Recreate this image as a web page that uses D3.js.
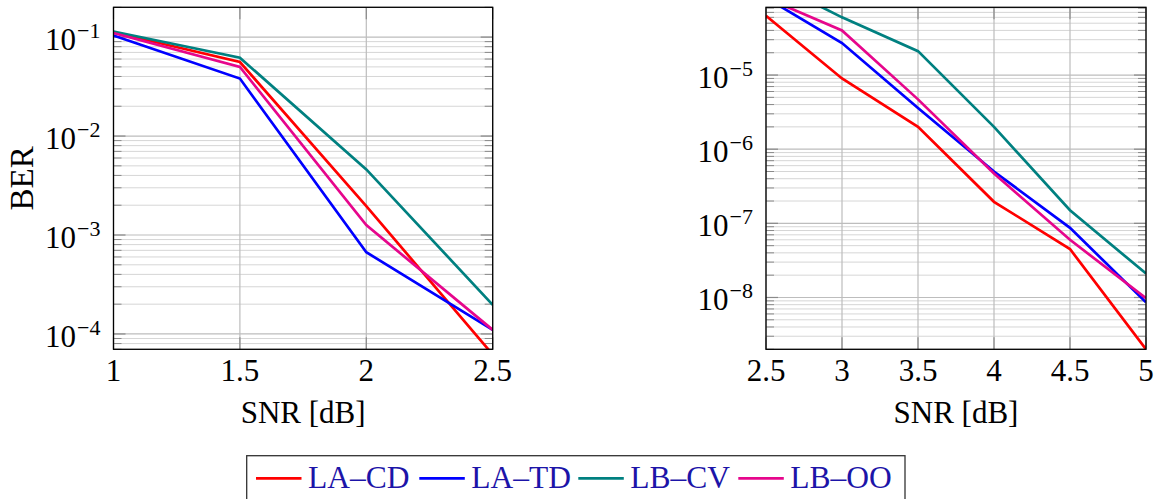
<!DOCTYPE html>
<html>
<head>
<meta charset="utf-8">
<script src="https://cdn.jsdelivr.net/npm/d3@7"></script>
<style>
  html, body { margin: 0; padding: 0; background: #fff; }
</style>
</head>
<body>
<svg id="chart" width="1158" height="499" font-family="'Liberation Serif', 'Times New Roman', Tinos, 'DejaVu Serif', serif"></svg>
<script>
// ---------- data ----------
const seriesNames = ["LA–CD", "LA–TD", "LB–CV", "LB–OO"];
const seriesColors = ["#ff0000", "#0000ff", "#008080", "#e6068c"];

const snrLeft = [1, 1.5, 2, 2.5];
const laCdLeft = [0.112, 0.056, 1.96e-3, 6.2e-5];
const laTdLeft = [0.104, 0.0381, 6.7e-4, 1.1e-4];
const lbCvLeft = [0.114, 0.0619, 4.6e-3, 1.97e-4];
const lbOoLeft = [0.11, 0.0499, 1.26e-3, 1.1e-4];

const snrRight = [2.5, 3, 3.5, 4, 4.5, 5];
const laCdRight = [6.3e-5, 9e-6, 2e-6, 1.95e-7, 4.5e-8, 2e-9];
const laTdRight = [1.1e-4, 2.7e-5, 3.6e-6, 5e-7, 8.7e-8, 8.6e-9];
const lbCvRight = [1.97e-4, 6e-5, 2.1e-5, 2e-6, 1.5e-7, 2.1e-8];
const lbOoRight = [1.1e-4, 4e-5, 4.7e-6, 4.7e-7, 6e-8, 9.8e-9];

const xTicksLeft = [1, 1.5, 2, 2.5];
const xTicksRight = [2.5, 3, 3.5, 4, 4.5, 5];
const yExpLeft = [-1, -2, -3, -4];
const yExpRight = [-5, -6, -7, -8];

const xLabel = "SNR [dB]";
const yLabel = "BER";

// ---------- drawing ----------
const svg = d3.select("#chart");
const FONT = "'Liberation Serif', 'Times New Roman', Tinos, 'DejaVu Serif', serif";

function panel(opts) {
  const { left, right, top, bottom, xDomain, yDomain, xTicks, yExps, snr, series, id, showYLabel } = opts;
  const x = d3.scaleLinear().domain(xDomain).range([left, right]);
  const y = d3.scaleLog().domain(yDomain).range([bottom, top]);
  const g = svg.append("g").attr("font-family", FONT);

  svg.append("clipPath").attr("id", id).append("rect")
    .attr("x", left).attr("y", top).attr("width", right - left).attr("height", bottom - top);

  const [ymin, ymax] = yDomain;
  const minor = [];
  const major = [];
  for (let e = Math.floor(Math.log10(ymin)); e <= Math.ceil(Math.log10(ymax)); e++) {
    for (let m = 1; m <= 9; m++) {
      const v = m * Math.pow(10, e);
      if (v >= ymin && v <= ymax) (m === 1 ? major : minor).push(v);
    }
  }

  g.selectAll(".ming").data(minor).enter().append("line")
    .attr("x1", left).attr("x2", right)
    .attr("y1", d => y(d)).attr("y2", d => y(d))
    .attr("stroke", "#c4c4c4").attr("stroke-width", 0.7);
  g.selectAll(".majg").data(major).enter().append("line")
    .attr("x1", left).attr("x2", right)
    .attr("y1", d => y(d)).attr("y2", d => y(d))
    .attr("stroke", "#bdbdbd").attr("stroke-width", 1.2);
  g.selectAll(".xg").data(xTicks).enter().append("line")
    .attr("x1", d => x(d)).attr("x2", d => x(d))
    .attr("y1", top).attr("y2", bottom)
    .attr("stroke", "#bdbdbd").attr("stroke-width", 1.2);

  const tickCol = "#8a8a8a";
  minor.forEach(v => {
    [[left, left + 8], [right, right - 8]].forEach(([a, b]) => {
      g.append("line").attr("x1", a).attr("x2", b).attr("y1", y(v)).attr("y2", y(v))
        .attr("stroke", tickCol).attr("stroke-width", 1);
    });
  });
  major.forEach(v => {
    [[left, left + 12], [right, right - 12]].forEach(([a, b]) => {
      g.append("line").attr("x1", a).attr("x2", b).attr("y1", y(v)).attr("y2", y(v))
        .attr("stroke", tickCol).attr("stroke-width", 1.2);
    });
  });
  xTicks.forEach(v => {
    [[bottom, bottom - 12], [top, top + 12]].forEach(([a, b]) => {
      g.append("line").attr("x1", x(v)).attr("x2", x(v)).attr("y1", a).attr("y2", b)
        .attr("stroke", tickCol).attr("stroke-width", 1.2);
    });
  });

  const line = d3.line().x(d => x(d[0])).y(d => y(d[1]));
  const lg = g.append("g").attr("clip-path", `url(#${id})`);
  series.forEach((vals, i) => {
    lg.append("path")
      .datum(snr.map((s, k) => [s, vals[k]]))
      .attr("d", line)
      .attr("fill", "none")
      .attr("stroke", seriesColors[i])
      .attr("stroke-width", 2.7)
      .attr("stroke-linejoin", "miter");
  });

  g.append("rect").attr("x", left).attr("y", top)
    .attr("width", right - left).attr("height", bottom - top)
    .attr("fill", "none").attr("stroke", "#000").attr("stroke-width", 1.3);

  g.selectAll(".xl").data(xTicks).enter().append("text")
    .attr("x", d => x(d)).attr("y", 381)
    .attr("text-anchor", "middle")
    .attr("font-size", 31).attr("fill", "#000")
    .text(d => d3.format("")(d));

  yExps.forEach(e => {
    const t = g.append("text")
      .attr("x", left - 13).attr("y", y(Math.pow(10, e)) + 13)
      .attr("text-anchor", "end").attr("font-size", 31).attr("fill", "#000");
    t.append("tspan").text("10");
    t.append("tspan").attr("dy", -12).attr("dx", 1).attr("font-size", 22).text("−" + Math.abs(e));
  });

  g.append("text").attr("x", (left + right) / 2).attr("y", 423)
    .attr("text-anchor", "middle").attr("font-size", 31).attr("fill", "#000")
    .text(xLabel);

  if (showYLabel) {
    g.append("text")
      .attr("transform", `translate(33,${(top + bottom) / 2}) rotate(-90)`)
      .attr("text-anchor", "middle").attr("font-size", 33).attr("fill", "#000")
      .text(yLabel);
  }
}

panel({
  id: "clipL", left: 113.5, right: 492.7, top: 7.3, bottom: 349.3,
  xDomain: [1, 2.5], yDomain: [7e-5, 0.2], xTicks: xTicksLeft, yExps: yExpLeft,
  snr: snrLeft, series: [laCdLeft, laTdLeft, lbCvLeft, lbOoLeft], showYLabel: true
});
panel({
  id: "clipR", left: 766, right: 1146, top: 7.3, bottom: 349.3,
  xDomain: [2.5, 5], yDomain: [2e-9, 8.2e-5], xTicks: xTicksRight, yExps: yExpRight,
  snr: snrRight, series: [laCdRight, laTdRight, lbCvRight, lbOoRight], showYLabel: false
});

// ---------- legend ----------
const leg = svg.append("g").attr("font-family", FONT);
leg.append("rect").attr("x", 246.7).attr("y", 455.7).attr("width", 905 - 246.7).attr("height", 60)
  .attr("fill", "#fff").attr("stroke", "#333").attr("stroke-width", 1.3);
const legX = [256, 419.3, 578.3, 738.3];
seriesNames.forEach((name, i) => {
  leg.append("line").attr("x1", legX[i]).attr("x2", legX[i] + 45.5)
    .attr("y1", 478.3).attr("y2", 478.3)
    .attr("stroke", seriesColors[i]).attr("stroke-width", 2.7);
  leg.append("text").attr("x", legX[i] + 52).attr("y", 488.3)
    .attr("font-size", 31.5).attr("fill", "#1c14a8")
    .text(name);
});
</script>
</body>
</html>
